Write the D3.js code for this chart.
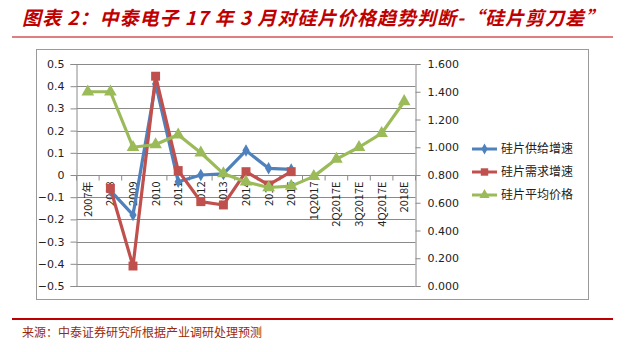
<!DOCTYPE html>
<html>
<head>
<meta charset="utf-8">
<script src="https://cdn.jsdelivr.net/npm/d3@7"></script>
<style>
  body { margin: 0; background: #fff; }
  svg text { font-family: "Noto Sans CJK SC", "DejaVu Sans", sans-serif; }
</style>
</head>
<body>
<svg id="chart" width="625" height="352"></svg>
<script>
// data
var categories = ['2007年', '2008', '2009', '2010', '2011', '2012', '2013', '2014', '2015', '2016',
                  '1Q2017', '2Q2017E', '3Q2017E', '4Q2017E', '2018E'];
var supplyGrowth = [null, -0.07, -0.18, 0.41, -0.03, 0.0, 0.005, 0.11, 0.03, 0.025, null, null, null, null, null];
var demandGrowth = [null, -0.06, -0.41, 0.445, 0.02, -0.12, -0.135, 0.015, -0.045, 0.015, null, null, null, null, null];
var avgPrice = [1.40, 1.40, 1.00, 1.02, 1.09, 0.96, 0.81, 0.75, 0.71, 0.72, 0.79, 0.915, 1.00, 1.10, 1.33];
var leftTicks = [0.5, 0.4, 0.3, 0.2, 0.1, 0, -0.1, -0.2, -0.3, -0.4, -0.5];
var rightTicks = [0, 0.2, 0.4, 0.6, 0.8, 1.0, 1.2, 1.4, 1.6];
var seriesNames = ['硅片供给增速', '硅片需求增速', '硅片平均价格'];

var svg = d3.select('#chart');

// header / footer
svg.append('text')
    .attr('x', 22).attr('y', 25)
    .attr('textLength', 582).attr('lengthAdjust', 'spacing')
    .style('font-size', '19px').style('font-weight', 'bold').style('font-style', 'italic')
    .attr('fill', '#c00000')
    .text('图表 2：中泰电子 17 年 3 月对硅片价格趋势判断-“硅片剪刀差”');
svg.append('line').attr('x1', 12).attr('x2', 613).attr('y1', 37).attr('y2', 37)
    .attr('stroke', '#c00000').attr('stroke-width', 1.2);
svg.append('line').attr('x1', 12).attr('x2', 613).attr('y1', 319).attr('y2', 319)
    .attr('stroke', '#c00000').attr('stroke-width', 2);
svg.append('text')
    .attr('x', 22).attr('y', 337)
    .style('font-size', '12px')
    .attr('fill', '#9a2a08')
    .text('来源：中泰证券研究所根据产业调研处理预测');

// chart frame
svg.append('rect').attr('x', 36.5).attr('y', 49.5).attr('width', 552).attr('height', 250)
    .attr('fill', 'none').attr('stroke', '#9a9a9a');

var plotL = 76.5, plotR = 415.5, plotT = 64, plotB = 286;
var x = d3.scaleBand().domain(categories).range([plotL, plotR]);
var yL = d3.scaleLinear().domain([-0.5, 0.5]).range([plotB, plotT]);
var yR = d3.scaleLinear().domain([0, 1.6]).range([plotB, plotT]);

// gridlines
svg.append('g').selectAll('line').data(leftTicks).enter().append('line')
    .attr('x1', plotL).attr('x2', plotR)
    .attr('y1', function (d) { return Math.round(yL(d)) + 0.5; })
    .attr('y2', function (d) { return Math.round(yL(d)) + 0.5; })
    .attr('stroke', '#8a8a8a').attr('stroke-width', 1);

// left axis
var axL = svg.append('g').attr('transform', 'translate(' + plotL + ',0)')
    .call(d3.axisLeft(yL).tickValues(leftTicks).tickSize(6).tickPadding(6)
        .tickFormat(function (d) { return d === 0 ? '0' : d3.format('.1f')(d); }));
axL.select('.domain').attr('stroke', '#8a8a8a');
axL.selectAll('.tick line').attr('stroke', '#8a8a8a');
axL.selectAll('.tick text').style('font-size', '11px').attr('fill', '#222')
    .style('font-family', '"DejaVu Sans", sans-serif');

// right axis
var axR = svg.append('g').attr('transform', 'translate(' + plotR + ',0)')
    .call(d3.axisRight(yR).tickValues(rightTicks).tickSize(5).tickPadding(7)
        .tickFormat(d3.format('.3f')));
axR.select('.domain').attr('stroke', '#8a8a8a');
axR.selectAll('.tick line').attr('stroke', '#8a8a8a');
axR.selectAll('.tick text').style('font-size', '11px').attr('fill', '#222')
    .style('font-family', '"DejaVu Sans", sans-serif');

// category axis on the zero line
var zeroY = Math.round(yL(0)) + 0.5;
var bounds = categories.map(function (c) { return x(c); }).concat([plotR]);
svg.append('g').selectAll('line').data(bounds).enter().append('line')
    .attr('x1', function (d) { return d; }).attr('x2', function (d) { return d; })
    .attr('y1', zeroY).attr('y2', zeroY + 5)
    .attr('stroke', '#8a8a8a');
svg.append('g').selectAll('text').data(categories).enter().append('text')
    .attr('transform', function (d) {
        return 'translate(' + (x(d) + x.bandwidth() / 2 + 4) + ',' + (zeroY + 6) + ') rotate(-90)';
    })
    .attr('text-anchor', 'end')
    .style('font-size', '11px').attr('fill', '#222')
    .text(function (d) { return d; });

var colors = ['#4f81bd', '#c0504d', '#9bbb59'];

function drawSeries(values, yScale, color, shape, size) {
    var pts = values.map(function (v, i) { return { c: categories[i], v: v }; })
        .filter(function (d) { return d.v !== null; });
    var line = d3.line()
        .x(function (d) { return x(d.c) + x.bandwidth() / 2; })
        .y(function (d) { return yScale(d.v); });
    svg.append('path').datum(pts).attr('d', line)
        .attr('fill', 'none').attr('stroke', color).attr('stroke-width', 3.2)
        .attr('stroke-linejoin', 'round');
    svg.append('g').selectAll('path').data(pts).enter().append('path')
        .attr('d', d3.symbol().type(shape).size(size))
        .attr('transform', function (d) {
            return 'translate(' + (x(d.c) + x.bandwidth() / 2) + ',' + yScale(d.v) + ')';
        })
        .attr('fill', color);
}

drawSeries(supplyGrowth, yL, colors[0], d3.symbolDiamond, 45);
drawSeries(demandGrowth, yL, colors[1], d3.symbolSquare, 80);
drawSeries(avgPrice, yR, colors[2], d3.symbolTriangle, 70);

// legend
var shapes = [[d3.symbolDiamond, 35], [d3.symbolSquare, 55], [d3.symbolTriangle, 45]];
var leg = svg.append('g').selectAll('g').data(seriesNames).enter().append('g')
    .attr('transform', function (d, i) { return 'translate(472,' + (149 + i * 23) + ')'; });
leg.append('line').attr('x1', 0).attr('x2', 25).attr('y1', 0).attr('y2', 0)
    .attr('stroke', function (d, i) { return colors[i]; }).attr('stroke-width', 3);
leg.append('path')
    .attr('d', function (d, i) { return d3.symbol().type(shapes[i][0]).size(shapes[i][1])(); })
    .attr('transform', 'translate(12.5,0)')
    .attr('fill', function (d, i) { return colors[i]; });
leg.append('text').attr('x', 29).attr('y', 4)
    .style('font-size', '12px').attr('fill', '#222')
    .text(function (d) { return d; });
</script>
</body>
</html>
